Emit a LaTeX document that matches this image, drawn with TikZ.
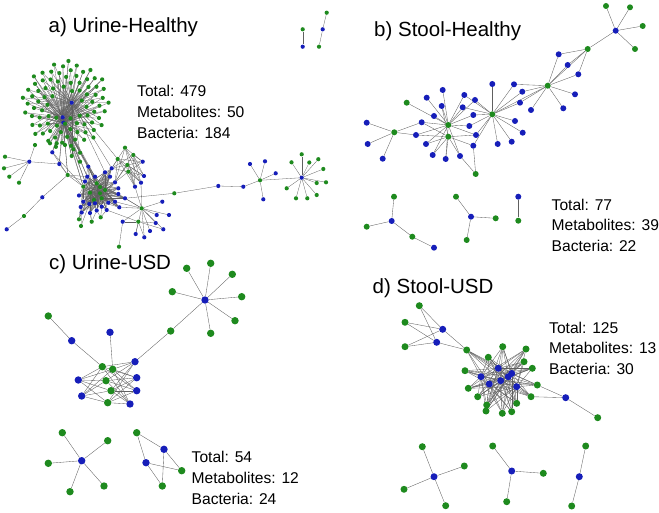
\documentclass[tikz,border=0pt]{standalone}
\usepackage{fontspec}
\setmainfont{Liberation Sans}
\usetikzlibrary{backgrounds}
\definecolor{metblue}{RGB}{22,30,185}
\definecolor{bacgreen}{RGB}{30,138,30}
\newcommand{\dotsize}{4.2pt}

\begin{document}
\begin{tikzpicture}[
    x=1pt, y=-1pt,
    met/.style={circle, fill=metblue, inner sep=0pt, minimum size=\dotsize},
    bac/.style={circle, fill=bacgreen, inner sep=0pt, minimum size=\dotsize},
    link/.style={draw=gray!75!black, line width=0.35pt},
    panel/.style={anchor=north west, inner sep=0pt, font=\fontsize{20.5}{24}\selectfont},
    counts/.style={anchor=north west, inner sep=0pt, align=left,
        font=\fontsize{15.6}{20.8}\selectfont}
]
\useasboundingbox (0,0) rectangle (659,513);

% Titles and counts
\node[panel] (tA) at (48.5,17.5) {a) Urine-Healthy};
\node[counts] (nA) at (137,85) {Total: 479\\Metabolites: 50\\Bacteria: 184};
\node[panel] (tB) at (374,21) {b) Stool-Healthy};
\node[counts] (nB) at (551.5,198.5) {Total: 77\\Metabolites: 39\\Bacteria: 22};
\node[panel] (tC) at (49,254.5) {c) Urine-USD};
\node[counts] (nC) at (191.5,451) {Total: 54\\Metabolites: 12\\Bacteria: 24};
\node[panel] (tD) at (372.5,278) {d) Stool-USD};
\node[counts] (nD) at (549,321.5) {Total: 125\\Metabolites: 13\\Bacteria: 30};

% a) Urine-Healthy
\begin{scope}
\renewcommand{\dotsize}{4.2pt}
\foreach \n/\x/\y in {hA1/71.7/102.7, hA2/62.7/117.3, hA3/63.3/122.7}
    \node[met] (\n) at (\x,\y) {};
\foreach \i in {10,...,95}{
    \pgfmathsetmacro\rr{44*sqrt(\i/95)}
    \pgfmathsetmacro\aa{\i*137.508}
    \node[bac] (sa\i) at ({66+\rr*cos(\aa)},{104+\rr*sin(\aa)}) {};
}
\foreach \n/\x/\y in {aG1/96.7/183.3, aG2/100/187, aG3/90/192.7, aG4/100/193.3,
    aG5/101.7/198.3, aG6/105/190, aG7/83.3/186.7, aG8/94/200,
    aG9/79/219.3, aG10/81/226, aG11/91.7/221.7, aG12/100.7/217.3,
    aG13/117.7/159, aG14/125/147.7, aG15/133.3/155, aG16/127.3/165, aG17/128.3/171.7,
    aG18/141.7/208.3, aG19/138.3/221.7, aG20/119/246.7,
    aG21/5/156.7, aG22/4/168.3, aG23/9.3/176.7, aG24/19/182.7, aG25/35/145,
    aG26/67.7/175, aG27/24/216,
    aG28/50/143.3, aG29/56.7/143.3, aG30/65/145, aG31/71.7/156, aG32/73.3/149.3,
    aG33/80/152.7, aG34/80/161.7,
    aG35/174.3/193.3, aG36/260/180.3,
    aG37/301.7/154.3, aG38/291.5/162.3, aG39/309.3/162.5, aG40/318.3/159.2,
    aG41/323.3/169, aG42/326/182.3, aG43/316.7/183, aG44/316.7/195,
    aG45/307.3/198.3, aG46/296/198.3, aG47/286.7/188.3,
    pA1/302.7/29.3, pA3/326.7/12.7, pA5/319/46.7}
    \node[bac] (\n) at (\x,\y) {};
\foreach \n/\x/\y in {aB1/88.3/166.7, aB2/87.3/176.7, aB3/95/176.7, aB4/105/172.3,
    aB5/111.7/168.3, aB6/110/176.7, aB7/115/182.3, aB8/118.3/188.3, aB9/118.3/194,
    aB10/115/201.7, aB11/108.3/202.7, aB12/101.7/206.7, aB13/95/203.3, aB14/89.3/204,
    aB15/83.3/201.7, aB16/79/195.5, aB17/80.7/207, aB18/81.7/212.5, aB19/85/181.5,
    aB20/90/213, aB21/96.7/210.5, aB22/106.7/210, aB23/119.3/207.3, aB24/125/198.3,
    aB25/142.7/161.7, aB26/144/176, aB27/141/182.7, aB28/135/186.7,
    aB29/162.3/201.7, aB30/169/215, aB31/156.7/215, aB32/163.3/229.3, aB33/155.7/223,
    aB34/150/231, aB35/144.3/237.3, aB36/135.7/234, aB37/122.7/221.7,
    aB38/29.3/161.7, aB39/59.3/164, aB40/52.3/152.3, aB41/42.3/197.3, aB42/6.7/229.3,
    aB43/218.3/186, aB44/243.3/186.7, aB45/250/164, aB46/265/161.3, aB47/275.7/173.3,
    aB48/263.3/199.3, aB49/301.7/177.7,
    pA2/302.7/46.7, pA4/322.7/29.3}
    \node[met] (\n) at (\x,\y) {};
\begin{scope}[on background layer, link/.append style={line width=0.3pt}]
\foreach \i in {10,...,95}{
    \pgfmathtruncatemacro\h{mod(\i,3)+1}
    \pgfmathtruncatemacro\k{mod(\i+1,3)+1}
    \draw[link] (sa\i) -- (hA\h);
    \draw[link] (sa\i) -- (hA\k);
}
\foreach \g in {1,...,8}
    \foreach \b in {1,...,24}
        \draw[link] (aG\g) -- (aB\b);
\foreach \t in {aG28,aG29,aG30,aG31,aG32,aG33,aG34,aB39,aB40,aG26,aB1,aB2,aB3,aG1,aG7,aB19}{
    \draw[link] (hA2) -- (\t);
    \draw[link] (hA3) -- (\t);
}
\foreach \t in {aG13,aB4,aB5,aG31,aG33}
    \draw[link] (hA1) -- (\t);
\foreach \g in {aG13,aG14,aG15,aG16,aG17}
    \foreach \b in {aB25,aB26,aB27,aB28,aB5,aB7}
        \draw[link] (\g) -- (\b);
\foreach \b in {aB29,aB30,aB31,aB32,aB33,aB34,aB35,aB36,aB37,aB23,aB24,aB10,aB9,aB27,aB28}
    \draw[link] (aG18) -- (\b);
\foreach \b in {aB33,aB35,aB36,aB37,aB32,aB22}
    \draw[link] (aG19) -- (\b);
\foreach \a/\b in {aG20/aB37, aG9/aB17, aG9/aB18, aG9/aB15, aG10/aB18, aG10/aB14,
    aG11/aB20, aG11/aB21, aG11/aB14, aG12/aB21, aG12/aB22, aG12/aB12,
    aB38/aG21, aB38/aG22, aB38/aG23, aB38/aG24, aB38/aG25, aB38/aB39,
    aG26/aB40, aG26/aB39, aG26/aB41, aG26/aB19, aG26/aB2, aG26/aG7,
    aB41/aG27, aG27/aB42, aB40/aG7,
    aB24/aG35, aG35/aB43, aB43/aB44, aB44/aG36, aG36/aB49,
    pA1/pA2, pA3/pA4, pA4/pA5}
    \draw[link] (\a) -- (\b);
\foreach \b in {aB45,aB46,aB47,aB48}
    \draw[link] (aG36) -- (\b);
\foreach \i in {37,...,47}
    \draw[link] (aB49) -- (aG\i);
\end{scope}
\end{scope}

% b) Stool-Healthy
\begin{scope}
\renewcommand{\dotsize}{6pt}
\foreach \n/\x/\y in {bB1/615.7/30.7, bB2/558.7/54.3, bB3/567.7/65, bB4/578.3/74.3,
    bB5/575/94.3, bB6/563.3/108.3, bB7/531/110, bB8/520/102.7, bB9/522.3/91.7,
    bB10/514/84.3, bB11/492.3/84, bB12/515/121, bB13/522.7/132.7, bB14/511.7/141.7,
    bB15/497.7/144, bB16/475/100, bB17/473.3/115, bB18/469.3/126, bB19/476/135,
    bB20/464.3/95, bB21/462.7/107.3, bB22/473.3/145.7, bB23/442.7/90, bB24/426.7/97.7,
    bB25/441.7/106, bB26/434/116, bB27/421.7/122.3, bB28/416/135, bB29/426/144,
    bB30/432.7/155, bB31/445.7/159, bB32/460/156, bB33/366.7/122.7, bB34/367.7/144,
    bB35/382.7/158.7,
    bB36/391.7/221, bB37/434/247.7, bB38/471/216.7, bB39/518.3/196.7}
    \node[met] (\n) at (\x,\y) {};
\foreach \n/\x/\y in {bG1/587.7/49, bG2/547.7/85.7, bG3/492.3/114.3, bG4/448.3/125,
    bG5/448.3/136.7, bG6/394.3/132.3, bG7/406.7/102.7, bG8/475.7/174,
    bS1/606/6, bS2/630/7.3, bS3/642.7/26, bS4/635/49,
    bG9/394/196.7, bG10/366.7/226.7, bG11/412.3/236.7, bG12/456/196.7,
    bG13/495.7/218.3, bG14/466.7/240, bG15/518.3/220.7}
    \node[bac] (\n) at (\x,\y) {};
\begin{scope}[on background layer]
\foreach \t in {bS1,bS2,bS3,bS4,bG1}
    \draw[link] (bB1) -- (\t);
\foreach \t in {bB2,bB3,bB4,bG2}
    \draw[link] (bG1) -- (\t);
\foreach \t in {bB2,bB3,bB4,bB5,bB6,bB7,bB8,bB9,bB10,bG3}
    \draw[link] (bG2) -- (\t);
\foreach \t in {bB8,bB9,bB10,bB11,bB12,bB13,bB14,bB15,bB16,bB17,bB18,bB19,bB20,bB21,bB22}
    \draw[link] (bG3) -- (\t);
\foreach \t in {bB16,bB17,bB18,bB19,bB20,bB21,bB23,bB24,bB25,bB26,bB27,bB28,bB29,bB30,bB31,bB32,bG7}
    \draw[link] (bG4) -- (\t);
\foreach \t in {bB19,bB22,bB25,bB27,bB28,bB29,bB30,bB31,bB32}
    \draw[link] (bG5) -- (\t);
\foreach \t in {bB33,bB34,bB35,bB27,bB28}
    \draw[link] (bG6) -- (\t);
\foreach \a/\b in {bG8/bB22, bG8/bB32, bB36/bG9, bB36/bG10, bB36/bG11, bG11/bB37,
    bB38/bG12, bB38/bG13, bB38/bG14, bB39/bG15}
    \draw[link] (\a) -- (\b);
\end{scope}
\end{scope}

% c) Urine-USD
\begin{scope}
\renewcommand{\dotsize}{7.4pt}
\foreach \n/\x/\y in {cB1/205/300, cB2/135/361.7, cB3/71.7/340.7, cB4/110/332.3,
    cB5/78.3/380, cB6/81.7/396, cB7/136.7/377.7, cB8/136.7/390.7, cB9/130/404,
    cB10/81.7/460.7, cB11/164/449.3, cB12/146/462.7}
    \node[met] (\n) at (\x,\y) {};
\foreach \n/\x/\y in {cS1/186.7/268.3, cS2/210.7/263.3, cS3/232.3/274.3, cS4/241.7/296.7,
    cS5/235/320.7, cS6/210.7/333.3, cS7/172.3/291.7, cG1/170.7/331, cG2/48.3/316,
    cG3/102.3/366.7, cG4/112.7/369.3, cG5/106/380.7, cG6/111/390.7, cG7/107.7/402.7,
    cG8/62.3/432.7, cG9/107.7/440.7, cG10/48.3/463.3, cG11/70/491.7, cG12/104/486,
    cG13/136.7/432.7, cG14/181.7/470.7, cG15/162.3/486}
    \node[bac] (\n) at (\x,\y) {};
\begin{scope}[on background layer]
\foreach \t in {cS1,cS2,cS3,cS4,cS5,cS6,cS7,cG1}
    \draw[link] (cB1) -- (\t);
\foreach \g in {3,...,7}
    \foreach \b in {2,5,6,7,8,9}
        \draw[link] (cG\g) -- (cB\b);
\foreach \t in {cG8,cG9,cG10,cG11,cG12}
    \draw[link] (cB10) -- (\t);
\foreach \a/\b in {cG1/cB2, cG2/cB3, cB3/cG3, cB4/cG4, cG13/cB11, cG13/cB12,
    cB11/cG14, cB11/cG15, cB12/cG14, cB12/cG15}
    \draw[link] (\a) -- (\b);
\end{scope}
\end{scope}

% d) Stool-USD
\begin{scope}
\renewcommand{\dotsize}{7pt}
\foreach \n/\x/\y in {dB1/442.7/329.3, dB2/436.7/342.3, dB3/498.3/368.3, dB4/481/376.7,
    dB5/489.3/384, dB6/500.7/380.7, dB7/508.3/376.7, dB8/511.7/373.5, dB9/516.7/386.7,
    dB10/565.7/397.7, dB11/434/476.7, dB12/511.7/471, dB13/579.3/476.7}
    \node[met] (\n) at (\x,\y) {};
\foreach \n/\x/\y in {dG1/419.3/305.7, dG2/405/322.3, dG3/405/346.7, dG4/466.7/350,
    dG5/502.7/346.7, dG6/526/349, dG7/488.3/357.3, dG8/524/361.7, dG9/532.3/368.3,
    dG10/465/370.7, dG11/468.3/388.3, dG12/477.7/396.7, dG13/486.7/405, dG14/486/411,
    dG15/502.3/413.3, dG16/511.7/411.7, dG17/516.7/403.3, dG18/531/396.7,
    dG19/537.3/385, dG20/597.7/417.7,
    dG21/422.3/446.7, dG22/464.3/466, dG23/404/489.3, dG24/445.7/505.7,
    dG25/492.7/446, dG26/543.3/473.3, dG27/506.7/501.7, dG28/585.7/446, dG29/571.7/506}
    \node[bac] (\n) at (\x,\y) {};
\begin{scope}[on background layer]
\foreach \g in {dG1,dG2,dG3,dG4}{
    \draw[link] (\g) -- (dB1);
    \draw[link] (\g) -- (dB2);
}
\foreach \g in {4,...,19}
    \foreach \b in {3,...,9}
        \draw[link] (dG\g) -- (dB\b);
\foreach \a/\b in {dG19/dB10, dG18/dB10, dB10/dG20, dB11/dG21, dB11/dG22, dB11/dG23,
    dB11/dG24, dB12/dG25, dB12/dG26, dB12/dG27, dB13/dG28, dB13/dG29}
    \draw[link] (\a) -- (\b);
\end{scope}
\end{scope}

\end{tikzpicture}
\end{document}
